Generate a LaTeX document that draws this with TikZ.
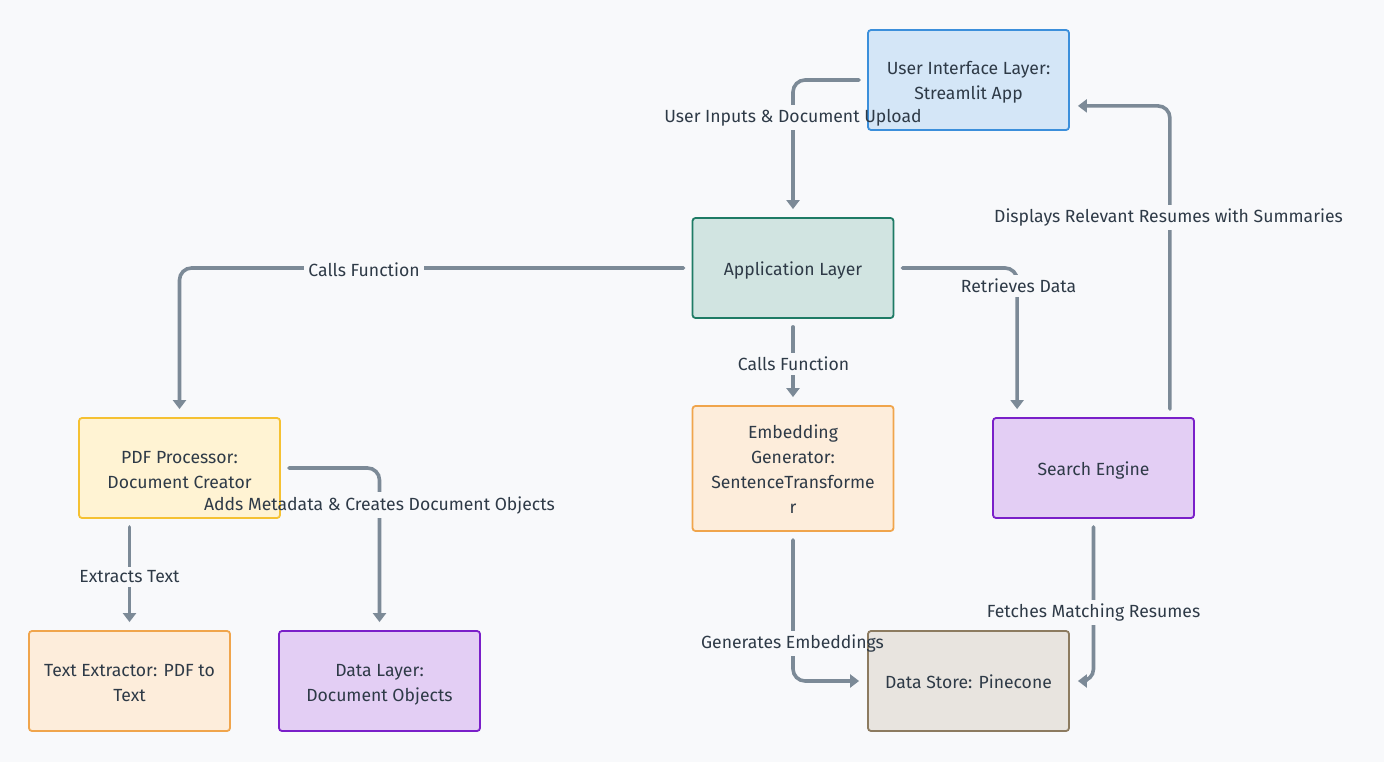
\documentclass[tikz,border=0pt]{standalone}
\usepackage{fontspec}
\setmainfont{Fira Sans}
\usetikzlibrary{arrows.meta}
\definecolor{bgcol}{HTML}{F8F9FB}
\definecolor{txtcol}{HTML}{2E3A47}
\definecolor{edgecol}{HTML}{7C8A97}
\definecolor{uifill}{HTML}{D4E6F7}\definecolor{uidraw}{HTML}{3B8FDB}
\definecolor{appfill}{HTML}{D1E4E1}\definecolor{appdraw}{HTML}{1E7B65}
\definecolor{pdffill}{HTML}{FFF3D3}\definecolor{pdfdraw}{HTML}{F5C132}
\definecolor{orfill}{HTML}{FDEDDB}\definecolor{ordraw}{HTML}{F0A54C}
\definecolor{pufill}{HTML}{E3CEF4}\definecolor{pudraw}{HTML}{7A1FC9}
\definecolor{dsfill}{HTML}{E8E4DF}\definecolor{dsdraw}{HTML}{8C7B60}
% fixed line height/depth so every box line sits at the same level
\newcommand\bls{\rule[-5pt]{0pt}{25pt}}
\pgfdeclarelayer{canvas}
\pgfdeclarelayer{edgelayer}
\pgfdeclarelayer{masklayer}
\pgfsetlayers{canvas,edgelayer,masklayer,main}
\tikzset{
  box/.style={rectangle, rounded corners=3pt, line width=1.8pt,
    minimum width=201pt, minimum height=100pt, align=center,
    text=txtcol, font=\fontsize{17.6}{25}\selectfont, inner sep=0pt},
  uibox/.style={box, fill=uifill, draw=uidraw},
  appbox/.style={box, fill=appfill, draw=appdraw},
  pdfbox/.style={box, fill=pdffill, draw=pdfdraw},
  orbox/.style={box, fill=orfill, draw=ordraw},
  pubox/.style={box, fill=pufill, draw=pudraw},
  dsbox/.style={box, fill=dsfill, draw=dsdraw},
  edge/.style={draw=edgecol, line width=3.6pt, line cap=round,
    rounded corners=12pt, shorten <=8pt, shorten >=8pt,
    -{Triangle[width=13pt,length=9pt]}},
  elabel/.style={text=txtcol, font=\fontsize{17.6}{21}\selectfont,
    inner xsep=4pt, inner ysep=4pt}
}
\begin{document}
\begin{tikzpicture}[x=1pt,y=-1pt]
\begin{pgfonlayer}{canvas}
  \fill[bgcol] (0,0) rectangle (1384,762);
\end{pgfonlayer}
\useasboundingbox (0,0) rectangle (1384,762);

% components
\node[uibox]  (ui)     at (968.5,80)  {\bls User Interface Layer:\\\bls Streamlit App};
\node[appbox] (app)    at (793,268)   {\bls Application Layer};
\node[pdfbox] (pdf)    at (179.5,468) {\bls PDF Processor:\\\bls Document Creator};
\node[orbox, minimum height=125pt] (emb) at (793,468.5)
  {\bls Embedding\\\bls Generator:\\\bls SentenceTransforme\\\bls r};
\node[pubox]  (search) at (1093.5,468) {\bls Search Engine};
\node[orbox]  (tx)     at (129.5,681) {\bls Text Extractor: PDF to\\\bls Text};
\node[pubox]  (dl)     at (379.5,681) {\bls Data Layer:\\\bls Document Objects};
\node[dsbox]  (ds)     at (968.5,681) {\bls Data Store: Pinecone};

% edge labels
\node[elabel] (l1) at (793,117.5)    {User Inputs \& Document Upload};
\node[elabel] (l2) at (364,269.5)    {Calls Function};
\node[elabel] (l3) at (1018.5,286)   {Retrieves Data};
\node[elabel] (l4) at (793.5,364)    {Calls Function};
\node[elabel] (l5) at (1168.5,217.5) {Displays Relevant Resumes with Summaries};
\node[elabel] (l6) at (379.5,505)    {Adds Metadata \& Creates Document Objects};
\node[elabel] (l7) at (129.5,577)    {Extracts Text};
\node[elabel] (l8) at (792.5,643.5)  {Generates Embeddings};
\node[elabel] (l9) at (1093.5,612.5) {Fetches Matching Resumes};

\begin{pgfonlayer}{masklayer}
  \foreach \n in {l1,l2,l3,l4,l5,l6,l7,l8,l9}
    \fill[bgcol] (\n.south west) rectangle (\n.north east);
\end{pgfonlayer}

% connectors
\begin{pgfonlayer}{edgelayer}
  \draw[edge] (ui.west) -| (app.north);
  \draw[edge] (app.west) -| (pdf.north);
  \draw[edge] (app.east) -| ([xshift=25pt]search.north west);
  \draw[edge] (app.south) -- (emb.north);
  \draw[edge] ([xshift=-25pt]search.north east) |- ([yshift=25pt]ui.south east);
  \draw[edge] (pdf.east) -| (dl.north);
  \draw[edge] (pdf.south -| tx.north) -- (tx.north);
  \draw[edge] (emb.south) |- (ds.west);
  \draw[edge] (search.south) |- (ds.east);
\end{pgfonlayer}
\end{tikzpicture}
\end{document}
